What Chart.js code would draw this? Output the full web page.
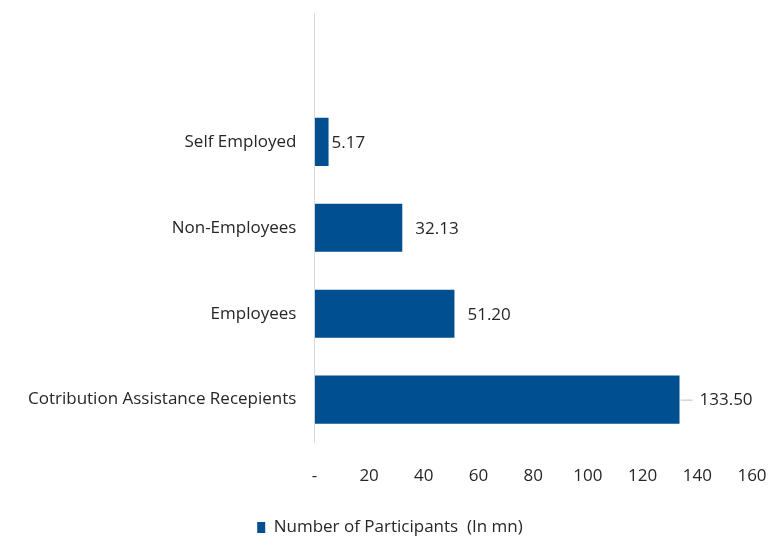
<!DOCTYPE html>
<html>
<head>
    <meta charset="UTF-8">
    <title>Number of Participants</title>
    <script src="https://cdn.jsdelivr.net/npm/chart.js"></script>
    <style>
        html, body { margin: 0; padding: 0; background: #ffffff; }
        #wrap { width: 778px; height: 538px; }
    </style>
</head>
<body>
    <div id="wrap"><canvas id="participantsChart"></canvas></div>
    <script>
        // categories, top to bottom
        var categories = ['Self Employed', 'Non-Employees', 'Employees', 'Cotribution Assistance Recepients'];
        var participants = [5.17, 32.13, 51.20, 133.50];
        var seriesName = 'Number of Participants  (In mn)';
        var xTicks = [0, 20, 40, 60, 80, 100, 120, 140, 160];

        var fontFamily = "'Open Sans', sans-serif";
        var barColor = '#004f91';
        var textColor = '#262626';

        // the original leaves an empty slot above the first bar
        var labels = [''].concat(categories);
        var values = [null].concat(participants);

        // value labels at the end of each bar
        var valueLabels = {
            id: 'valueLabels',
            afterDatasetsDraw: function (chart) {
                var ctx = chart.ctx;
                var meta = chart.getDatasetMeta(0);
                ctx.save();
                ctx.font = '17px ' + fontFamily;
                ctx.fillStyle = textColor;
                ctx.textBaseline = 'middle';
                meta.data.forEach(function (bar, i) {
                    var v = values[i];
                    if (v === null) return;
                    var x = bar.x + 3;
                    if (i === values.length - 1) {
                        ctx.strokeStyle = '#bfbfbf';
                        ctx.lineWidth = 1;
                        ctx.beginPath();
                        ctx.moveTo(bar.x + 1, bar.y + 0.5);
                        ctx.lineTo(bar.x + 13, bar.y + 0.5);
                        ctx.stroke();
                        x = bar.x + 20;
                    } else if (i > 1) {
                        x = bar.x + 13;
                    }
                    ctx.fillText(v.toFixed(2), x, bar.y + 1);
                });
                ctx.restore();
            }
        };

        var ctx = document.getElementById('participantsChart').getContext('2d');
        var chart = new Chart(ctx, {
            type: 'bar',
            data: {
                labels: labels,
                datasets: [{
                    label: seriesName,
                    data: values,
                    backgroundColor: barColor,
                    borderWidth: 0,
                    categoryPercentage: 1,
                    barPercentage: 0.56
                }]
            },
            plugins: [valueLabels],
            options: {
                indexAxis: 'y',
                responsive: true,
                maintainAspectRatio: false,
                animation: false,
                layout: { padding: { top: 13, right: 26, left: 28, bottom: -8 } },
                scales: {
                    x: {
                        min: 0,
                        max: 160,
                        afterBuildTicks: function (axis) {
                            axis.ticks = xTicks.map(function (v) { return { value: v }; });
                        },
                        afterFit: function (axis) { axis.height += 19; },
                        // invisible tick marks keep the labels away from the plot
                        grid: { display: true, drawOnChartArea: false, drawTicks: true, tickLength: 23, color: 'rgba(0,0,0,0)' },
                        border: { display: false },
                        ticks: {
                            padding: 0,
                            color: textColor,
                            font: { family: fontFamily, size: 17 },
                            callback: function (v) { return v === 0 ? '-' : v; }
                        }
                    },
                    y: {
                        grid: { display: true, drawOnChartArea: false, drawTicks: true, tickLength: 18, color: 'rgba(0,0,0,0)' },
                        border: { display: true, color: '#d9d9d9', width: 1 },
                        ticks: {
                            padding: 0,
                            color: textColor,
                            font: { family: fontFamily, size: 17 }
                        }
                    }
                },
                plugins: {
                    legend: {
                        position: 'bottom',
                        labels: {
                            boxWidth: 8,
                            boxHeight: 11,
                            padding: 14,
                            color: textColor,
                            font: { family: fontFamily, size: 17 }
                        }
                    },
                    tooltip: { enabled: false }
                }
            }
        });
    </script>
</body>
</html>
